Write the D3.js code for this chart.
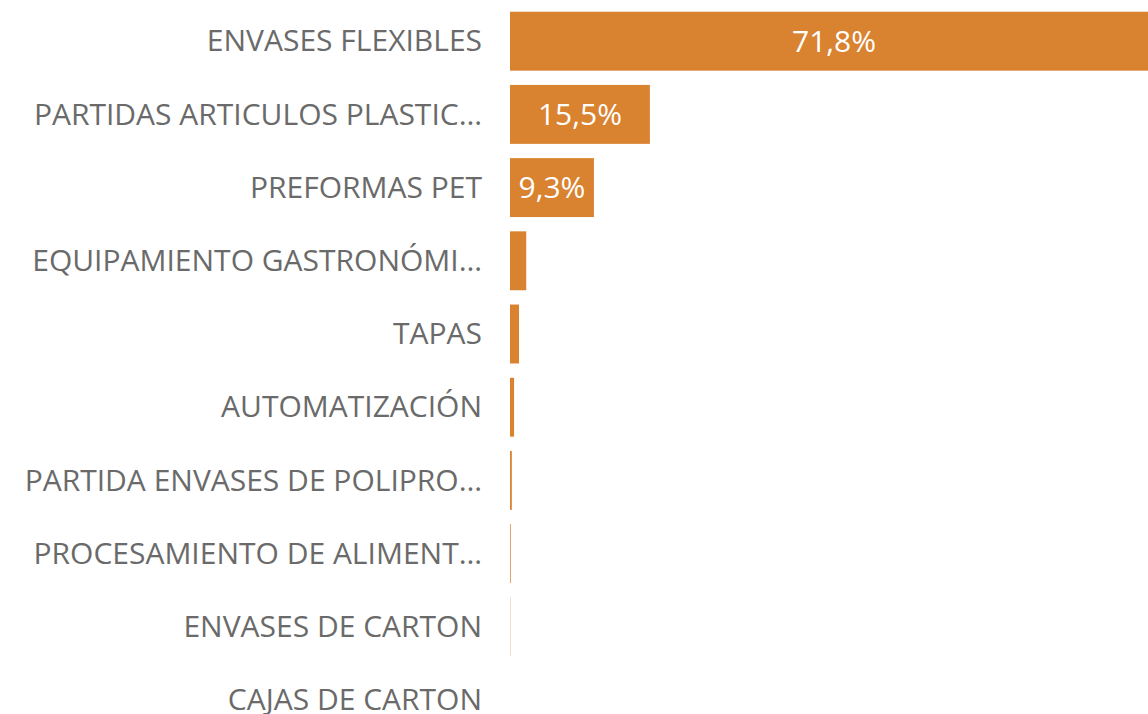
<!DOCTYPE html>
<html>
<head>
<meta charset="utf-8">
<script src="https://cdn.jsdelivr.net/npm/d3@7"></script>
<style>
  body { margin: 0; background: #fff; overflow: hidden; }
  svg { display: block; }
</style>
</head>
<body>
<svg id="chart"></svg>
<script>
// datos (porcentaje del total)
var categorias = [
  "ENVASES FLEXIBLES",
  "PARTIDAS ARTICULOS PLASTIC…",
  "PREFORMAS PET",
  "EQUIPAMIENTO GASTRONÓMI…",
  "TAPAS",
  "AUTOMATIZACIÓN",
  "PARTIDA ENVASES DE POLIPRO…",
  "PROCESAMIENTO DE ALIMENT…",
  "ENVASES DE CARTON",
  "CAJAS DE CARTON"
];
var valores = [71.8, 15.5, 9.3, 1.8, 1.0, 0.45, 0.2, 0.08, 0.03, 0];
var etiquetas = ["71,8%", "15,5%", "9,3%", "", "", "", "", "", "", ""];

var width = 1148, height = 714;
var x0 = 510;

var svg = d3.select("#chart")
  .attr("width", width)
  .attr("height", height);

var x = d3.scaleLinear()
  .domain([0, 71.8])
  .range([x0, x0 + 648]);

var y = d3.scaleBand()
  .domain(categorias)
  .range([4.6, 4.6 + 732])
  .paddingInner(0.195)
  .paddingOuter(0.0975);

var datos = categorias.map(function(c, i) {
  return { cat: c, val: valores[i], label: etiquetas[i] };
});

// barras
svg.selectAll("rect.bar")
  .data(datos)
  .enter()
  .append("rect")
  .attr("class", "bar")
  .attr("x", x(0))
  .attr("y", function(d) { return y(d.cat); })
  .attr("width", function(d) { return x(d.val) - x(0); })
  .attr("height", y.bandwidth())
  .attr("fill", "#D98230");

// etiquetas de categoria
var eje = d3.axisLeft(y).tickSize(0).tickPadding(0);
var g = svg.append("g")
  .attr("transform", "translate(" + (x0 - 28) + ",0)")
  .call(eje);
g.select(".domain").remove();
g.selectAll("text")
  .attr("fill", "#6a6a6a")
  .attr("dy", "0.34em")
  .style("font-family", "'Open Sans', 'Noto Sans', sans-serif")
  .style("font-size", "30px");

// valores dentro de las barras
svg.selectAll("text.valor")
  .data(datos.filter(function(d) { return d.label !== ""; }))
  .enter()
  .append("text")
  .attr("class", "valor")
  .attr("x", function(d) { return (x(0) + x(d.val)) / 2; })
  .attr("y", function(d) { return y(d.cat) + y.bandwidth() / 2; })
  .attr("dy", "0.36em")
  .attr("text-anchor", "middle")
  .attr("fill", "#ffffff")
  .style("font-family", "'Open Sans', 'Noto Sans', sans-serif")
  .style("font-size", "30px")
  .text(function(d) { return d.label; });
</script>
</body>
</html>
